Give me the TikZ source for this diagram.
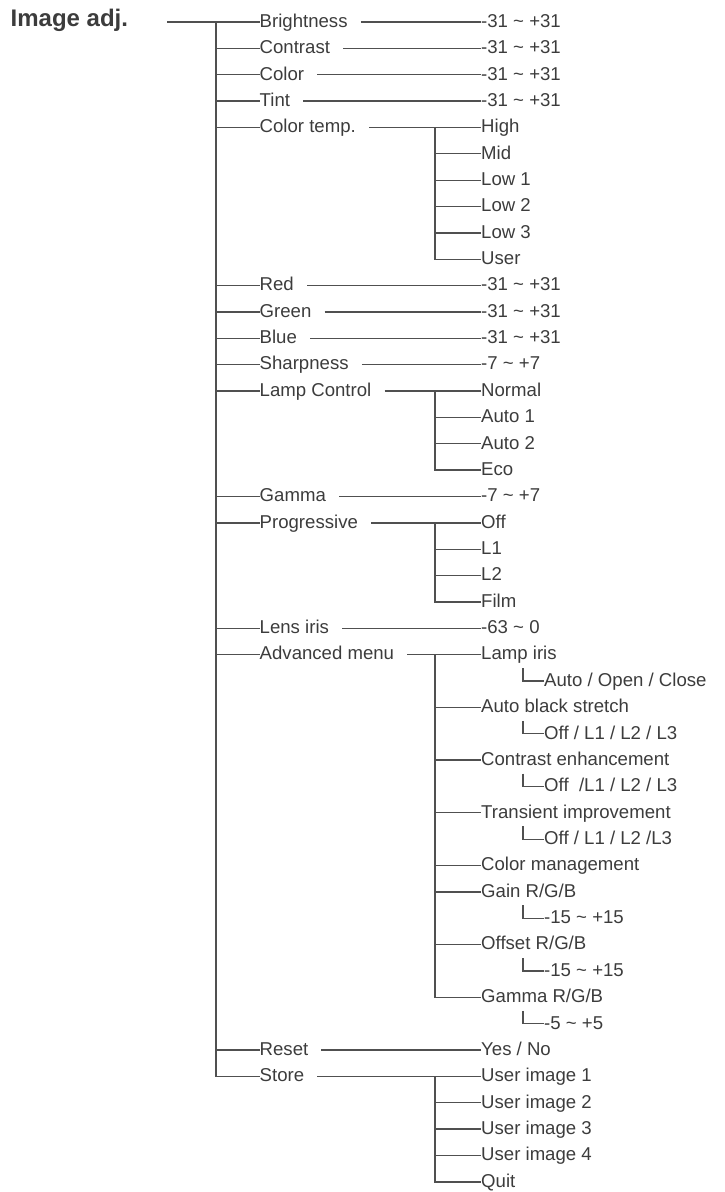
\documentclass[tikz,border=0pt]{standalone}
\usepackage{fontspec}
\setmainfont{Liberation Sans}
\usepackage{xcolor}
\usepackage{tikz}
\usetikzlibrary{positioning, calc}
\definecolor{inkgray}{HTML}{3C3C3C}
\tikzset{
  item/.style={anchor=west, inner xsep=0pt, inner ysep=0pt,
               text height=10.6pt, text depth=0pt, text=inkgray,
               font=\fontsize{18.6}{20}\selectfont},
  title/.style={anchor=base west, inner sep=0pt, text=inkgray,
                font=\fontsize{24}{26}\selectfont\bfseries},
  link/.style={line width=1.3pt, draw=inkgray!90},
  lead/.style={link, shorten <=13pt},
  elbow/.style={link, shorten <=8pt}
}

\begin{document}
\begin{tikzpicture}[x=1pt, y=-26.36pt]
  \useasboundingbox (0,-0.8346) rectangle (724,44.385);

  % Title and trunk
  \node[title] (imgadj) at (10.5,0.178) {Image adj.};
  \coordinate (tstart) at (167,0);
  \coordinate (trunk) at (216,0);
  \coordinate (sub) at (435,0);
  \coordinate (cx) at (523,0);

  % First level
  \node[item] (bright) at (259.5,0)  {Brightness};
  \node[item] (contr)  at (259.5,1)  {Contrast};
  \node[item] (color)  at (259.5,2)  {Color};
  \node[item] (tint)   at (259.5,3)  {Tint};
  \node[item] (ctemp)  at (259.5,4)  {Color temp.};
  \node[item] (red)    at (259.5,10) {Red};
  \node[item] (green)  at (259.5,11) {Green};
  \node[item] (blue)   at (259.5,12) {Blue};
  \node[item] (sharp)  at (259.5,13) {Sharpness};
  \node[item] (lamp)   at (259.5,14) {Lamp Control};
  \node[item] (gamma)  at (259.5,18) {Gamma};
  \node[item] (prog)   at (259.5,19) {Progressive};
  \node[item] (iris)   at (259.5,23) {Lens iris};
  \node[item] (adv)    at (259.5,24) {Advanced menu};
  \node[item] (reset)  at (259.5,39) {Reset};
  \node[item] (store)  at (259.5,40) {Store};

  % Values and second level
  \node[item] (vbright) at (481,0)  {-31 \textasciitilde{} +31};
  \node[item] (vcontr)  at (481,1)  {-31 \textasciitilde{} +31};
  \node[item] (vcolor)  at (481,2)  {-31 \textasciitilde{} +31};
  \node[item] (vtint)   at (481,3)  {-31 \textasciitilde{} +31};
  \node[item] (high)    at (481,4)  {High};
  \node[item] (mid)     at (481,5)  {Mid};
  \node[item] (low1)    at (481,6)  {Low 1};
  \node[item] (low2)    at (481,7)  {Low 2};
  \node[item] (low3)    at (481,8)  {Low 3};
  \node[item] (user)    at (481,9)  {User};
  \node[item] (vred)    at (481,10) {-31 \textasciitilde{} +31};
  \node[item] (vgreen)  at (481,11) {-31 \textasciitilde{} +31};
  \node[item] (vblue)   at (481,12) {-31 \textasciitilde{} +31};
  \node[item] (vsharp)  at (481,13) {-7 \textasciitilde{} +7};
  \node[item] (normal)  at (481,14) {Normal};
  \node[item] (auto1)   at (481,15) {Auto 1};
  \node[item] (auto2)   at (481,16) {Auto 2};
  \node[item] (eco)     at (481,17) {Eco};
  \node[item] (vgamma)  at (481,18) {-7 \textasciitilde{} +7};
  \node[item] (off)     at (481,19) {Off};
  \node[item] (pl1)     at (481,20) {L1};
  \node[item] (pl2)     at (481,21) {L2};
  \node[item] (film)    at (481,22) {Film};
  \node[item] (viris)   at (481,23) {-63 \textasciitilde{} 0};
  \node[item] (lampiris) at (481,24) {Lamp iris};
  \node[item] (abs)     at (481,26) {Auto black stretch};
  \node[item] (ce)      at (481,28) {Contrast enhancement};
  \node[item] (ti)      at (481,30) {Transient improvement};
  \node[item] (cm)      at (481,32) {Color management};
  \node[item] (gain)    at (481,33) {Gain R/G/B};
  \node[item] (offs)    at (481,35) {Offset R/G/B};
  \node[item] (grgb)    at (481,37) {Gamma R/G/B};
  \node[item] (yesno)   at (481,39) {Yes / No};
  \node[item] (ui1)     at (481,40) {User image 1};
  \node[item] (ui2)     at (481,41) {User image 2};
  \node[item] (ui3)     at (481,42) {User image 3};
  \node[item] (ui4)     at (481,43) {User image 4};
  \node[item] (quit)    at (481,44) {Quit};

  % Third level
  \node[item] (vlampiris) at (544,25) {Auto / Open / Close};
  \node[item] (vabs)  at (544,27) {Off / L1 / L2 / L3};
  \node[item] (vce)   at (544,29) {Off\ \ /L1 / L2 / L3};
  \node[item] (vti)   at (544,31) {Off / L1 / L2 /L3};
  \node[item] (vgain) at (544,34) {-15 \textasciitilde{} +15};
  \node[item] (voffs) at (544,36) {-15 \textasciitilde{} +15};
  \node[item] (vgrgb) at (544,38) {-5 \textasciitilde{} +5};

  % Trunk connectors
  \draw[link] (tstart) -- (bright.west);
  \draw[link] (trunk) |- (store.west);
  \draw[link] (trunk |- contr.west) -- (contr.west);
  \draw[link] (trunk |- color.west) -- (color.west);
  \draw[link] (trunk |- tint.west) -- (tint.west);
  \draw[link] (trunk |- ctemp.west) -- (ctemp.west);
  \draw[link] (trunk |- red.west) -- (red.west);
  \draw[link] (trunk |- green.west) -- (green.west);
  \draw[link] (trunk |- blue.west) -- (blue.west);
  \draw[link] (trunk |- sharp.west) -- (sharp.west);
  \draw[link] (trunk |- lamp.west) -- (lamp.west);
  \draw[link] (trunk |- gamma.west) -- (gamma.west);
  \draw[link] (trunk |- prog.west) -- (prog.west);
  \draw[link] (trunk |- iris.west) -- (iris.west);
  \draw[link] (trunk |- adv.west) -- (adv.west);
  \draw[link] (trunk |- reset.west) -- (reset.west);

  % Label to value
  \draw[lead] (bright.east) -- (vbright.west);
  \draw[lead] (contr.east) -- (vcontr.west);
  \draw[lead] (color.east) -- (vcolor.west);
  \draw[lead] (tint.east) -- (vtint.west);
  \draw[lead] (red.east) -- (vred.west);
  \draw[lead] (green.east) -- (vgreen.west);
  \draw[lead] (blue.east) -- (vblue.west);
  \draw[lead] (sharp.east) -- (vsharp.west);
  \draw[lead] (gamma.east) -- (vgamma.west);
  \draw[lead] (iris.east) -- (viris.west);
  \draw[lead] (reset.east) -- (yesno.west);

  % Color temp.
  \draw[lead] (ctemp.east) -- (high.west);
  \draw[link] (sub |- high.west) |- (user.west);
  \draw[link] (sub |- mid.west) -- (mid.west);
  \draw[link] (sub |- low1.west) -- (low1.west);
  \draw[link] (sub |- low2.west) -- (low2.west);
  \draw[link] (sub |- low3.west) -- (low3.west);

  % Lamp Control
  \draw[lead] (lamp.east) -- (normal.west);
  \draw[link] (sub |- normal.west) |- (eco.west);
  \draw[link] (sub |- auto1.west) -- (auto1.west);
  \draw[link] (sub |- auto2.west) -- (auto2.west);

  % Progressive
  \draw[lead] (prog.east) -- (off.west);
  \draw[link] (sub |- off.west) |- (film.west);
  \draw[link] (sub |- pl1.west) -- (pl1.west);
  \draw[link] (sub |- pl2.west) -- (pl2.west);

  % Advanced menu
  \draw[lead] (adv.east) -- (lampiris.west);
  \draw[link] (sub |- lampiris.west) |- (grgb.west);
  \draw[link] (sub |- abs.west) -- (abs.west);
  \draw[link] (sub |- ce.west) -- (ce.west);
  \draw[link] (sub |- ti.west) -- (ti.west);
  \draw[link] (sub |- cm.west) -- (cm.west);
  \draw[link] (sub |- gain.west) -- (gain.west);
  \draw[link] (sub |- offs.west) -- (offs.west);
  \draw[elbow] (lampiris.south -| cx) |- (vlampiris.west);
  \draw[elbow] (abs.south -| cx) |- (vabs.west);
  \draw[elbow] (ce.south -| cx) |- (vce.west);
  \draw[elbow] (ti.south -| cx) |- (vti.west);
  \draw[elbow] (gain.south -| cx) |- (vgain.west);
  \draw[elbow] (offs.south -| cx) |- (voffs.west);
  \draw[elbow] (grgb.south -| cx) |- (vgrgb.west);

  % Store
  \draw[lead] (store.east) -- (ui1.west);
  \draw[link] (sub |- ui1.west) |- (quit.west);
  \draw[link] (sub |- ui2.west) -- (ui2.west);
  \draw[link] (sub |- ui3.west) -- (ui3.west);
  \draw[link] (sub |- ui4.west) -- (ui4.west);
\end{tikzpicture}
\end{document}
